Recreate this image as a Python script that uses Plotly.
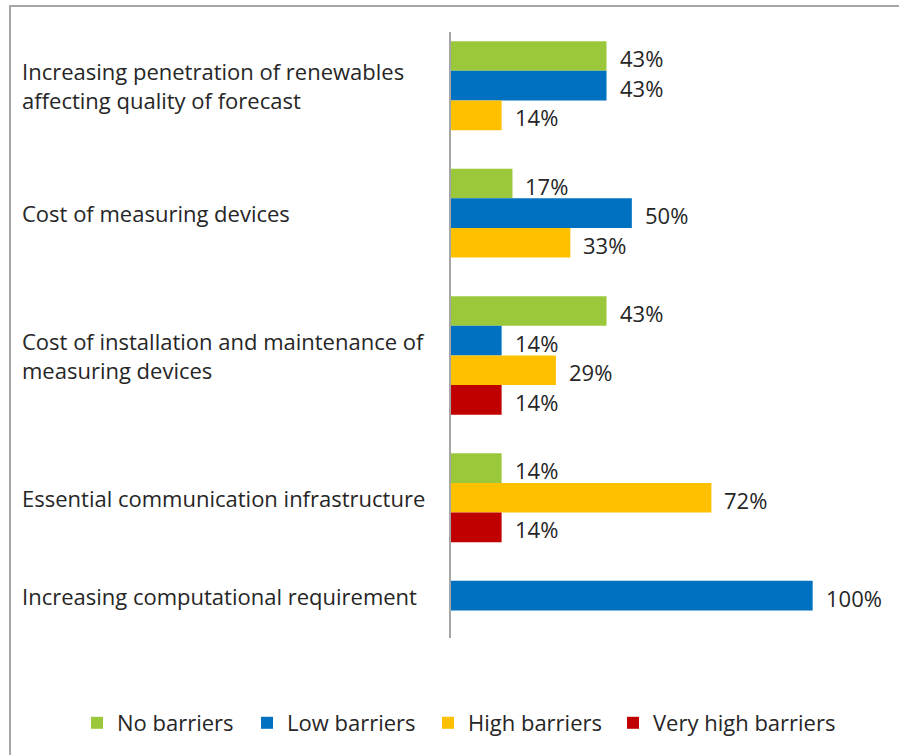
import plotly.graph_objects as go

# ---- data -------------------------------------------------------------
categories = [
    "Increasing penetration of renewables<br>affecting quality of forecast",
    "Cost of measuring devices",
    "Cost of installation and maintenance of<br>measuring devices",
    "Essential communication infrastructure",
    "Increasing computational requirement",
]
series_names = ["No barriers", "Low barriers", "High barriers", "Very high barriers"]
no_barriers = [43, 17, 43, 14, 0]
low_barriers = [43, 50, 14, 0, 100]
high_barriers = [14, 33, 29, 72, 0]
very_high_barriers = [0, 0, 14, 14, 0]

series_values = [no_barriers, low_barriers, high_barriers, very_high_barriers]
series_colors = ["#9BC83B", "#0070C0", "#FFC000", "#C00000"]
# width reserved for each legend entry's text
legend_entry_widths = [125, 136, 140, 185]

# ---- layout constants -------------------------------------------------
W, H = 899, 755
PLOT_L, PLOT_R, PLOT_T, PLOT_B = 451, 885, 32, 639
PLOT_W = PLOT_R - PLOT_L
PLOT_H = PLOT_B - PLOT_T
X_MAX = 120

FONT = "Open Sans"
FONT_SIZE = 22
TEXT_COLOR = "#262626"
LINE_COLOR = "#A6A6A6"

# bars of a category are packed together (empty answers take no slot)
TOP_PAD, GROUP_GAP, BOTTOM_PAD = 0.31, 1.30, 0.93

positions = [[] for _ in series_values]
lengths = [[] for _ in series_values]
group_centers = []
pos = 0.0
for i in range(len(categories)):
    start = pos
    for s, vals in enumerate(series_values):
        if vals[i] > 0:
            positions[s].append(pos + 0.5)
            lengths[s].append(vals[i])
            pos += 1
    group_centers.append((start + pos) / 2)
    pos += GROUP_GAP
last = pos - GROUP_GAP


def px_x(px):
    return (px - PLOT_L) / PLOT_W


def px_y(py):
    return (PLOT_B - py) / PLOT_H


fig = go.Figure()
for s, name in enumerate(series_names):
    fig.add_trace(
        go.Bar(
            x=lengths[s],
            y=positions[s],
            orientation="h",
            width=1,
            name=name,
            legendwidth=legend_entry_widths[s],
            marker=dict(color=series_colors[s], line=dict(width=0)),
            hovertemplate="%{x}%<extra>" + name + "</extra>",
        )
    )

annotations = []
# value labels to the right of each bar
for s in range(len(series_names)):
    for y, v in zip(positions[s], lengths[s]):
        annotations.append(
            dict(
                x=v, y=y, xref="x", yref="y", text=f"{v}%",
                showarrow=False, xanchor="left", yanchor="middle",
                xshift=11, yshift=-2,
                font=dict(family=FONT, size=FONT_SIZE, color=TEXT_COLOR),
            )
        )
# category labels, left aligned
for cat, yc in zip(categories, group_centers):
    annotations.append(
        dict(
            x=px_x(20), y=yc, xref="paper", yref="y", text=cat,
            showarrow=False, xanchor="left", yanchor="middle", align="left",
            font=dict(family=FONT, size=FONT_SIZE, color=TEXT_COLOR),
        )
    )

fig.update_layout(
    width=W,
    height=H,
    margin=dict(l=PLOT_L, r=W - PLOT_R, t=PLOT_T, b=H - PLOT_B, pad=0),
    paper_bgcolor="white",
    plot_bgcolor="white",
    barmode="overlay",
    font=dict(family=FONT, size=FONT_SIZE, color=TEXT_COLOR),
    xaxis=dict(
        range=[0, X_MAX], showgrid=False, zeroline=False,
        showticklabels=False, showline=False, ticks="", fixedrange=True,
    ),
    yaxis=dict(
        range=[last + BOTTOM_PAD, -TOP_PAD], showgrid=False, zeroline=False,
        showticklabels=False, ticks="", showline=True,
        linecolor=LINE_COLOR, linewidth=2, fixedrange=True,
    ),
    legend=dict(
        orientation="h",
        x=px_x(77), xanchor="left",
        y=px_y(723), yanchor="middle",
        font=dict(family=FONT, size=FONT_SIZE, color=TEXT_COLOR),
        bgcolor="rgba(0,0,0,0)",
        traceorder="normal",
    ),
    annotations=annotations,
    shapes=[
        dict(
            type="rect", xref="paper", yref="paper",
            x0=px_x(10), x1=px_x(W + 40), y0=px_y(H + 40), y1=px_y(6),
            line=dict(color=LINE_COLOR, width=2), fillcolor="rgba(0,0,0,0)",
            layer="below",
        )
    ],
    showlegend=True,
)

fig.write_html("out.html")
